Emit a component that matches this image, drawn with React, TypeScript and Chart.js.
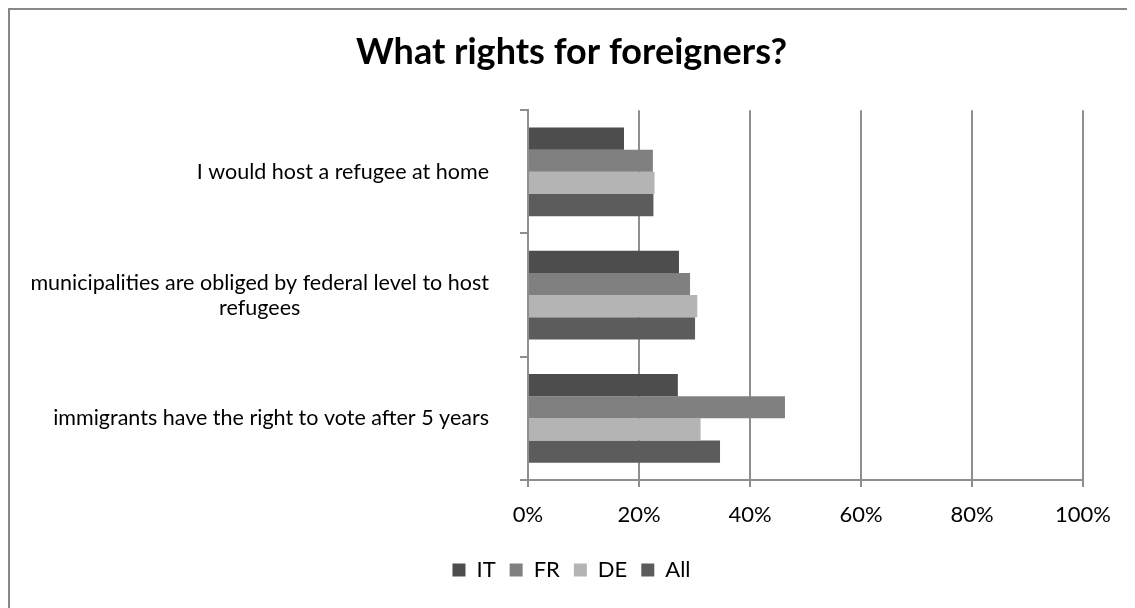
import React, { useEffect, useRef } from "react";
import { Chart, registerables } from "chart.js";

Chart.register(...registerables);

const categories: string[][] = [
  ["I would host a refugee at home"],
  ["municipalities are obliged by federal level to host", "refugees"],
  ["immigrants have the right to vote after 5 years"],
];
const seriesNames = ["IT", "FR", "DE", "All"];
const itValues = [17.3, 27.2, 27.0];
const frValues = [22.5, 29.2, 46.3];
const deValues = [22.8, 30.5, 31.1];
const allValues = [22.6, 30.1, 34.6];
const seriesColors = ["#4d4d4d", "#808080", "#b4b4b4", "#5c5c5c"];
const xTicks = [0, 20, 40, 60, 80, 100];

const FONT = "Lato, 'Open Sans', sans-serif";

const yLabelPlugin = {
  id: "yLabelPlugin",
  afterDraw(chart: any) {
    const ctx = chart.ctx;
    const yScale = chart.scales.y;
    ctx.save();
    ctx.font = `21.5px ${FONT}`;
    ctx.fillStyle = "#000000";
    ctx.textAlign = "center";
    ctx.textBaseline = "middle";
    const rightEdge = 479;
    const lineH = 25;
    categories.forEach((lines, i) => {
      const y = yScale.getPixelForValue(i);
      const maxW = Math.max(...lines.map((l) => ctx.measureText(l).width));
      const cx = rightEdge - maxW / 2;
      const startY = y - ((lines.length - 1) * lineH) / 2;
      lines.forEach((l, j) => ctx.fillText(l, cx, startY + j * lineH));
    });
    ctx.restore();
  },
};

export default function App() {
  const ref = useRef<HTMLCanvasElement | null>(null);
  useEffect(() => {
    if (!ref.current) return;
    const data = [itValues, frValues, deValues, allValues];
    const chart = new Chart(ref.current, {
      type: "bar",
      data: {
        labels: categories.map((c) => c.join(" ")),
        datasets: seriesNames.map((name, i) => ({
          label: name,
          data: data[i],
          backgroundColor: seriesColors[i],
          borderColor: seriesColors[i],
          borderWidth: 0,
          barPercentage: 1.0,
          categoryPercentage: 0.72,
        })),
      },
      plugins: [yLabelPlugin],
      options: {
        indexAxis: "y",
        animation: false,
        responsive: false,
        maintainAspectRatio: false,
        layout: { padding: { top: 0, right: 52, bottom: 17, left: 50 } },
        plugins: {
          title: {
            display: true,
            text: "What rights for foreigners?",
            color: "#000000",
            font: { family: FONT, size: 36, weight: "bold" },
            padding: { top: 21, bottom: 36 },
          },
          legend: {
            position: "bottom",
            labels: {
              color: "#000000",
              font: { family: FONT, size: 22 },
              boxWidth: 13,
              boxHeight: 13,
              padding: 14,
            },
          },
          tooltip: { enabled: false },
        },
        scales: {
          x: {
            min: 0,
            max: 100,
            afterBuildTicks: (scale: any) => {
              scale.ticks = xTicks.map((v) => ({ value: v }));
            },
            afterFit: (scale: any) => {
              scale.height = 65;
            },
            grid: {
              color: "#8e8e8e",
              lineWidth: 2,
              tickLength: 7,
              drawTicks: true,
            },
            border: { color: "#8e8e8e", width: 2 },
            ticks: {
              color: "#000000",
              font: { family: FONT, size: 22 },
              padding: 15,
              callback: (v: any) => `${v}%`,
            },
          },
          y: {
            afterFit: (scale: any) => {
              scale.width = 468;
            },
            grid: {
              drawOnChartArea: false,
              offset: true,
              color: "#8e8e8e",
              lineWidth: 2,
              tickLength: 8,
            },
            border: { color: "#8e8e8e", width: 2 },
            ticks: { display: false },
          },
        },
      },
    });
    return () => chart.destroy();
  }, []);

  return (
    <div
      style={{
        width: 1125,
        height: 598,
        borderLeft: "2px solid #888888",
        borderTop: "2px solid #888888",
        background: "#ffffff",
      }}
    >
      <canvas ref={ref} width={1125} height={598} style={{ display: "block" }} />
    </div>
  );
}
